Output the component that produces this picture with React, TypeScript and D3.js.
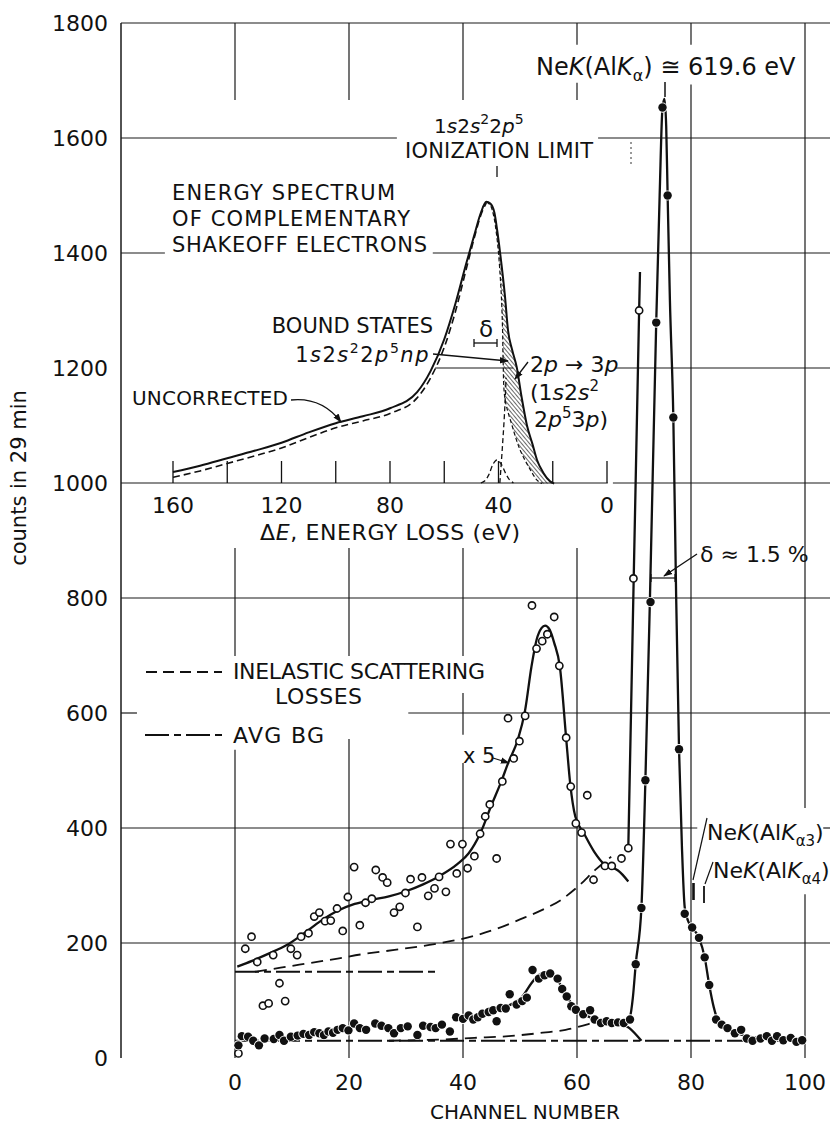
import React from 'react';
import * as d3 from 'd3';

// ---------- axis ticks ----------
const yTicks = [0, 200, 400, 600, 800, 1000, 1200, 1400, 1600, 1800];
const xTicks = [0, 20, 40, 60, 80, 100];
const insetTicks = [0, 20, 40, 60, 80, 100, 120, 140, 160];
const insetTickLabels = [0, 40, 80, 120, 160];

// ---------- main data (channel, counts) ----------
const openCircles: [number, number][] = [
  [0.6, 8], [1.8, 190], [2.9, 211], [3.9, 167], [4.9, 91], [5.9, 95], [6.7, 179], [7.8, 130], [8.8, 99],
  [9.8, 190], [10.9, 179], [11.6, 211], [12.9, 217], [13.9, 246], [14.8, 253], [15.8, 238], [16.8, 239],
  [17.9, 260], [18.9, 221], [19.8, 280], [20.9, 332], [21.9, 231], [22.9, 270], [24.0, 277], [24.7, 327],
  [25.9, 314], [26.7, 305], [27.9, 253], [28.9, 263], [29.9, 287], [30.8, 311], [32.0, 228], [32.8, 314],
  [33.9, 282], [35.0, 295], [35.8, 315], [37.0, 289], [37.8, 372], [38.9, 321], [39.9, 372], [40.8, 330],
  [42.0, 351], [43.0, 390], [43.9, 420], [44.7, 441], [45.9, 347], [46.9, 481], [47.9, 591], [48.9, 521],
  [49.9, 551], [50.9, 595], [52.1, 787], [52.9, 712], [53.9, 725], [54.8, 737], [56.0, 767], [56.9, 682],
  [58.1, 557], [58.9, 472], [59.8, 408], [60.8, 392], [61.8, 457], [62.9, 310], [64.9, 334], [66.1, 334],
  [67.8, 347], [69.0, 365], [69.9, 834], [70.9, 1300],
];

const filledDots: [number, number][] = [
  [0.6, 22], [1.2, 38], [2.3, 37], [3.2, 30], [4.2, 22], [5.2, 34], [6.8, 33], [7.8, 40], [8.6, 30],
  [9.8, 37], [11, 39], [12, 42], [13, 40], [13.9, 45], [14.8, 43], [15.6, 40], [16.4, 46], [17.2, 44],
  [18, 49], [18.9, 52], [19.9, 48], [20.9, 60], [21.9, 52], [23, 49], [24.6, 60], [25.7, 56], [26.9, 52],
  [27.9, 43], [29.1, 52], [30.3, 55], [32, 40], [33, 56], [34.3, 54], [35.2, 52], [36.3, 58], [37.7, 46],
  [38.8, 71], [40, 68], [41, 74], [41.8, 67], [42.6, 71], [43.4, 77], [44.5, 80], [45.3, 83], [45.9, 64],
  [46.6, 87], [47.5, 86], [48.2, 111], [49.4, 93], [50.4, 99], [51.2, 105], [52.2, 153], [53.3, 138],
  [54.3, 144], [55.3, 147], [56.6, 138], [57.4, 120], [58.2, 107], [59, 90], [59.8, 84], [61.1, 76],
  [62.3, 83], [63.1, 67], [64.2, 61], [65.2, 64], [66.1, 61], [67.2, 62], [68.2, 61], [69.3, 67],
  [70.3, 163], [71.3, 261], [72.0, 483], [72.9, 793], [73.9, 1279], [75.0, 1653], [75.9, 1500],
  [76.9, 1114], [77.9, 537], [78.9, 251], [80.2, 227], [81.4, 209], [82.4, 175], [83.2, 127], [84.4, 67],
  [85.4, 58], [86.4, 52], [87.7, 43], [88.8, 49], [89.8, 34], [90.8, 30], [92.2, 34], [93.3, 38],
  [94.2, 30], [95.1, 38], [96.2, 31], [97.5, 35], [98.5, 28], [99.5, 31],
];

// fitted curve through the x5 (open circle) data
const fitX5: [number, number][] = [
  [0.4, 159], [3, 169], [6, 182], [9, 196], [12, 216], [15, 238], [18, 256], [21, 268], [24, 275],
  [27, 281], [30, 290], [33, 302], [36, 317], [39, 337], [41, 356], [43, 390], [45, 440], [46.6, 478],
  [48, 515], [49.6, 553], [50.9, 605], [52, 680], [52.9, 727], [53.8, 748], [54.4, 752], [55.2, 745],
  [56, 722], [57, 680], [58.1, 556], [58.8, 478], [59.7, 420], [61.2, 391], [63, 359], [64.8, 337],
  [66, 332], [67.2, 326], [69, 307],
];
const riseX5: [number, number][] = [[69.0, 365], [70.0, 860], [70.9, 1300], [71.05, 1367]];

// fitted curve through the real counts (filled dots)
const fitCounts: [number, number][] = [
  [47, 88], [49, 96], [50.5, 108], [52, 130], [53, 142], [54.3, 148], [55.3, 148], [56.3, 140],
  [57.4, 122], [58.5, 103], [59.5, 88], [61, 77], [63, 68], [65, 63], [67, 62], [68.6, 64], [69.3, 72],
  [69.8, 105], [70.3, 163], [71.3, 261], [72.0, 483], [72.8, 800], [73.9, 1280], [74.5, 1500],
  [75.0, 1653], [75.35, 1668], [75.65, 1620], [75.9, 1500], [76.3, 1318], [76.9, 1114], [77.4, 800],
  [77.9, 537], [78.4, 370], [78.9, 262], [79.5, 238], [80.2, 227], [81.4, 209], [82.4, 175], [83.2, 127],
  [84, 88], [84.6, 68], [85.4, 58], [86.4, 52], [87.7, 45], [89, 40], [92, 35], [96, 33], [100, 31],
];
const tailCounts: [number, number][] = [[67.5, 62], [69.2, 52], [71.3, 30]];

// inelastic scattering losses (dashed)
const inelasticX5: [number, number][] = [
  [3.5, 150], [8, 157], [13, 165], [18, 173], [22, 180], [28, 188], [35, 198], [41.8, 212], [46, 225],
  [50, 241], [54, 258], [57.2, 275], [60.6, 302], [63.3, 328], [66, 350],
];
const inelasticCounts: [number, number][] = [
  [27, 30], [32, 31], [36, 32], [42, 35], [48, 38], [54, 44], [58, 49], [62, 59], [65, 69], [66.5, 74],
];

// average background (dash-dot)
const avgBgX5: [number, number][] = [[0, 150], [35.4, 150]];
const avgBgCounts: [number, number][] = [[0, 30], [100, 30]];

// ---------- inset: energy loss (eV), counts ----------
const shakeoffSolid: [number, number][] = [
  [160, 1019], [150, 1030], [140, 1043], [130, 1056], [120, 1070], [110, 1088], [100, 1104], [90, 1116],
  [80, 1130], [70, 1158], [65, 1195], [60, 1250], [56, 1310], [52, 1380], [49, 1430], [46.5, 1470],
  [44.5, 1489], [43, 1486], [41.5, 1470], [40.5, 1440], [39.4, 1400], [37.6, 1324], [36.5, 1266],
  [35, 1232], [33.3, 1202], [31.5, 1150], [29.5, 1100], [27.5, 1068], [25.8, 1040], [23.5, 1018],
  [21, 1003], [19.5, 999],
];
const shakeoffUncorrected: [number, number][] = [
  [160, 1010], [150, 1021], [140, 1034], [130, 1047], [120, 1061], [110, 1079], [100, 1096], [90, 1108],
  [80, 1121], [70, 1148], [65, 1183], [60, 1236], [56, 1296], [52, 1370], [49, 1425], [46.5, 1466],
  [44.5, 1487],
];
const boundInner: [number, number][] = [
  [44.5, 1489], [43, 1483], [41.8, 1465], [40.8, 1435], [40, 1400], [39, 1330], [38.5, 1266],
  [38.3, 1213], [37.6, 1146], [35, 1100], [32, 1057], [28.5, 1025], [25.8, 1005], [24, 999],
];
const steepDashed: [number, number][] = [[39.5, 1000], [38.6, 1060], [37.8, 1120], [37.2, 1183]];
const bump3p: [number, number][] = [
  [46.5, 1000], [45, 1004], [43.5, 1015], [42, 1033], [40.6, 1040], [39, 1033], [37.5, 1018], [36, 1006], [34.5, 1000],
];

// ---------- grid segments (in data units) ----------
const vGrid: { ch: number; spans: [number, number][] }[] = [
  { ch: 0, spans: [[1800, 1666], [887, 699], [536, 0]] },
  { ch: 20, spans: [[1800, 1666], [887, 699], [555, 0]] },
  { ch: 40, spans: [[1800, 1666], [887, 699], [635, 562], [513, 0]] },
  { ch: 60, spans: [[1800, 1762], [1696, 1666], [887, 0]] },
  { ch: 80, spans: [[1800, 1762], [1693, 0]] },
  { ch: 100, spans: [[1800, 435], [285, 0]] },
];
const hGrid: { v: number; spans: [number, number][] }[] = [
  { v: 1800, spans: [[-20, 104.5]] },
  { v: 1600, spans: [[-20, 28.4], [63.7, 104.5]] },
  { v: 1400, spans: [[-20, -12.3], [34.7, 104.5]] },
  { v: 1200, spans: [[35.1, 48.8], [66.7, 104.5]] },
  { v: 1000, spans: [[-20, 65.4], [66.3, 104.5]] },
  { v: 800, spans: [[-20, 104.5]] },
  { v: 600, spans: [[-20, -17.2], [30.4, 104.5]] },
  { v: 400, spans: [[-20, 81.1], [103.2, 104.5]] },
  { v: 200, spans: [[-20, 104.5]] },
];

const W = 830;
const H = 1129;
const FONT = 'DejaVu Sans, sans-serif';
const INK = '#111';

export default function App() {
  const x = d3.scaleLinear().domain([-20, 100]).range([121, 805]);
  const y = d3.scaleLinear().domain([0, 1800]).range([1058, 23]);
  const xe = d3.scaleLinear().domain([0, 160]).range([607, 173]);

  const lineMain = d3.line<[number, number]>().x((d) => x(d[0])).y((d) => y(d[1])).curve(d3.curveMonotoneX);
  const lineLin = d3.line<[number, number]>().x((d) => x(d[0])).y((d) => y(d[1]));
  const lineInset = d3.line<[number, number]>().x((d) => xe(d[0])).y((d) => y(d[1])).curve(d3.curveMonotoneX);
  const lineInsetCR = d3.line<[number, number]>().x((d) => xe(d[0])).y((d) => y(d[1])).curve(d3.curveCatmullRom);

  // hatched area (bound states): outer = solid right side, inner = boundInner
  const peakIdx = shakeoffSolid.findIndex((d) => d[0] === 44.5);
  const outerRight = shakeoffSolid.slice(peakIdx);
  const hatchPoly = [
    ...outerRight.map((d) => [xe(d[0]), y(d[1])]),
    ...[...boundInner].reverse().map((d) => [xe(d[0]), y(d[1])]),
  ];
  const hatchPath = 'M' + hatchPoly.map((p) => p.join(',')).join('L') + 'Z';

  const gridStroke = '#1a1a1a';
  const txt = { fontFamily: FONT, fill: INK } as const;

  return (
    <svg width={W} height={H} style={{ position: 'absolute', left: 0, top: 0, background: '#fff' }}>
      <defs>
        <pattern id="hatch" patternUnits="userSpaceOnUse" width="3" height="3" patternTransform="rotate(-40)">
          <line x1="0" y1="0" x2="0" y2="3" stroke="#111" strokeWidth="1.25" />
        </pattern>
        <marker id="arr" viewBox="0 0 10 10" refX="9" refY="5" markerWidth="7" markerHeight="7" orient="auto-start-reverse">
          <path d="M0,1.5 L10,5 L0,8.5 Z" fill="#111" />
        </marker>
      </defs>
      <rect x={0} y={0} width={W} height={H} fill="#fff" />

      {/* grid */}
      <g stroke={gridStroke} strokeWidth={1.2}>
        {vGrid.map((g) =>
          g.spans.map((s, i) => (
            <line key={`v${g.ch}-${i}`} x1={x(g.ch)} x2={x(g.ch)} y1={y(s[0])} y2={y(s[1])} />
          ))
        )}
        {hGrid.map((g) =>
          g.spans.map((s, i) => (
            <line key={`h${g.v}-${i}`} x1={x(s[0])} x2={x(s[1])} y1={y(g.v)} y2={y(g.v)} />
          ))
        )}
        {/* left axis */}
        <line x1={x(-20)} x2={x(-20)} y1={y(1800)} y2={y(0)} strokeWidth={1.5} />
      </g>

      {/* y tick labels */}
      {yTicks.map((v) => (
        <text key={v} x={108} y={y(v) + 8} textAnchor="end" fontSize={22} {...txt}>
          {v}
        </text>
      ))}
      {/* x tick labels */}
      {xTicks.map((v) => (
        <text key={v} x={x(v)} y={1090} textAnchor="middle" fontSize={22} {...txt}>
          {v}
        </text>
      ))}
      <text x={x(50) + 5} y={1119} textAnchor="middle" fontSize={20} {...txt}>
        CHANNEL NUMBER
      </text>
      <text transform={`translate(26, 478) rotate(-90)`} textAnchor="middle" fontSize={21} {...txt}>
        counts in 29 min
      </text>

      {/* ---------- inset ---------- */}
      <g stroke="#111" strokeWidth={1.3}>
        {insetTicks.map((e) => (
          <line key={e} x1={xe(e)} x2={xe(e)} y1={y(1000)} y2={y(1000) - 22} />
        ))}
      </g>
      {insetTickLabels.map((e) => (
        <text key={e} x={xe(e)} y={513} textAnchor="middle" fontSize={22} {...txt}>
          {e}
        </text>
      ))}
      <text x={260} y={540} fontSize={22} textLength={260} lengthAdjust="spacing" {...txt}>
        Δ<tspan fontStyle="italic">E</tspan>, ENERGY LOSS  (eV)
      </text>

      <path d={hatchPath} fill="url(#hatch)" stroke="none" />
      <path d={lineInset(shakeoffUncorrected) || ''} fill="none" stroke="#111" strokeWidth={1.6} strokeDasharray="7,4" />
      <path d={lineInsetCR(boundInner) || ''} fill="none" stroke="#111" strokeWidth={1.2} strokeDasharray="4,2.5" />
      <path d={lineInsetCR(steepDashed) || ''} fill="none" stroke="#111" strokeWidth={1.3} strokeDasharray="5,3" />
      <path d={lineInsetCR(bump3p) || ''} fill="none" stroke="#111" strokeWidth={1.3} strokeDasharray="5,3" />
      <path d={lineInset(shakeoffSolid) || ''} fill="none" stroke="#111" strokeWidth={2} />

      {/* inset annotations */}
      <text x={434} y={133} fontSize={20} {...txt}>
        1<tspan fontStyle="italic">s</tspan>2<tspan fontStyle="italic">s</tspan>
        <tspan fontSize={14} dy={-9}>2</tspan>
        <tspan dy={9}>2</tspan>
        <tspan fontStyle="italic">p</tspan>
        <tspan fontSize={14} dy={-9}>5</tspan>
      </text>
      <text x={405} y={158} fontSize={21} textLength={188} lengthAdjust="spacing" {...txt}>
        IONIZATION LIMIT
      </text>
      <line x1={497} x2={497} y1={166} y2={177} stroke="#111" strokeWidth={1.3} />

      <text x={172} y={200} fontSize={21} textLength={223} lengthAdjust="spacing" {...txt}>
        ENERGY SPECTRUM
      </text>
      <text x={172} y={226} fontSize={21} textLength={238} lengthAdjust="spacing" {...txt}>
        OF COMPLEMENTARY
      </text>
      <text x={172} y={252} fontSize={21} textLength={255} lengthAdjust="spacing" {...txt}>
        SHAKEOFF ELECTRONS
      </text>

      <text x={433} y={333} textAnchor="end" fontSize={21} {...txt}>
        BOUND STATES
      </text>
      <text x={486} y={337} textAnchor="middle" fontSize={23} {...txt}>
        δ
      </text>
      <g stroke="#111" strokeWidth={1.3}>
        <line x1={474} x2={497} y1={343} y2={343} />
        <line x1={474} x2={474} y1={339} y2={347} />
        <line x1={497} x2={497} y1={339} y2={347} />
      </g>
      <text x={430} y={362} textAnchor="end" fontSize={21} letterSpacing={1.5} {...txt}>
        1<tspan fontStyle="italic">s</tspan>2<tspan fontStyle="italic">s</tspan>
        <tspan fontSize={14} dy={-9}>2</tspan>
        <tspan dy={9}>2</tspan>
        <tspan fontStyle="italic">p</tspan>
        <tspan fontSize={14} dy={-9}>5</tspan>
        <tspan dy={9} fontStyle="italic">np</tspan>
      </text>
      <line x1={433} y1={354} x2={508} y2={361} stroke="#111" strokeWidth={1.3} markerEnd="url(#arr)" />

      <text x={530} y={372} fontSize={22} {...txt}>
        2<tspan fontStyle="italic">p</tspan> → 3<tspan fontStyle="italic">p</tspan>
      </text>
      <line x1={528} y1={362} x2={515} y2={379} stroke="#111" strokeWidth={1.3} markerEnd="url(#arr)" />
      <text x={530} y={400} fontSize={22} {...txt}>
        (1<tspan fontStyle="italic">s</tspan>2<tspan fontStyle="italic">s</tspan>
        <tspan fontSize={15} dy={-9}>2</tspan>
      </text>
      <text x={534} y={427} fontSize={22} {...txt}>
        2<tspan fontStyle="italic">p</tspan>
        <tspan fontSize={15} dy={-9}>5</tspan>
        <tspan dy={9}>3</tspan>
        <tspan fontStyle="italic">p</tspan>)
      </text>

      <text x={132} y={405} fontSize={20} textLength={156} lengthAdjust="spacing" {...txt}>
        UNCORRECTED
      </text>
      <path d="M291,400 C310,398 328,405 341,422" fill="none" stroke="#111" strokeWidth={1.3} markerEnd="url(#arr)" />

      {/* small dotted mark */}
      <line x1={631} x2={631} y1={142} y2={165} stroke="#333" strokeWidth={1} strokeDasharray="2,3" />

      {/* ---------- main curves ---------- */}
      <path d={lineLin(avgBgCounts) || ''} fill="none" stroke="#111" strokeWidth={1.8} strokeDasharray="24,5,7,5" />
      <path d={lineLin(avgBgX5) || ''} fill="none" stroke="#111" strokeWidth={1.8} strokeDasharray="24,5,7,5" />
      <path d={lineMain(inelasticX5) || ''} fill="none" stroke="#111" strokeWidth={1.8} strokeDasharray="12,7" />
      <path d={lineMain(inelasticCounts) || ''} fill="none" stroke="#111" strokeWidth={1.8} strokeDasharray="12,7" />
      <path d={lineMain(fitX5) || ''} fill="none" stroke="#111" strokeWidth={2.3} />
      <path d={lineLin(riseX5) || ''} fill="none" stroke="#111" strokeWidth={2.3} />
      <path d={lineMain(fitCounts) || ''} fill="none" stroke="#111" strokeWidth={2.3} />
      <path d={lineMain(tailCounts) || ''} fill="none" stroke="#111" strokeWidth={2.3} />

      {openCircles.map((d, i) => (
        <circle key={`o${i}`} cx={x(d[0])} cy={y(d[1])} r={3.6} fill="#fff" stroke="#111" strokeWidth={1.6} />
      ))}
      {filledDots.map((d, i) => (
        <circle key={`f${i}`} cx={x(d[0])} cy={y(d[1])} r={4.2} fill="#111" stroke="#fff" strokeWidth={1.8} paintOrder="stroke" />
      ))}

      {/* ---------- main annotations ---------- */}
      <text x={536} y={75} fontSize={24} {...txt}>
        Ne<tspan fontStyle="italic">K</tspan>(Al<tspan fontStyle="italic">K</tspan>
        <tspan fontSize={16} dy={6}>α</tspan>
        <tspan dy={-6}>) ≅ 619.6 eV</tspan>
      </text>
      <line x1={665} x2={665} y1={82} y2={97} stroke="#111" strokeWidth={1.5} />

      <text x={700} y={562} fontSize={22} {...txt}>
        δ ≈ 1.5 %
      </text>
      <line x1={697} y1={554} x2={664} y2={576} stroke="#111" strokeWidth={1.3} markerEnd="url(#arr)" />
      <g stroke="#111" strokeWidth={1.2}>
        <line x1={650} x2={676} y1={578} y2={578} />
        <line x1={651} x2={651} y1={574} y2={582} />
        <line x1={675} x2={675} y1={574} y2={582} />
      </g>

      <text x={463} y={763} fontSize={21} {...txt}>
        x 5
      </text>
      <line x1={493} y1={758} x2={509} y2={763} stroke="#111" strokeWidth={1.3} markerEnd="url(#arr)" />

      {/* legend */}
      <line x1={146} x2={222} y1={672} y2={672} stroke="#111" strokeWidth={1.8} strokeDasharray="11,6" />
      <text x={233} y={679} fontSize={22} textLength={252} lengthAdjust="spacing" {...txt}>
        INELASTIC SCATTERING
      </text>
      <text x={275} y={704} fontSize={22} textLength={87} lengthAdjust="spacing" {...txt}>
        LOSSES
      </text>
      <line x1={145} x2={222} y1={735} y2={735} stroke="#111" strokeWidth={1.8} strokeDasharray="24,5,7,5" />
      <text x={233} y={743} fontSize={22} textLength={91} lengthAdjust="spacing" {...txt}>
        AVG BG
      </text>

      {/* satellites */}
      <text x={707} y={840} fontSize={22} {...txt}>
        Ne<tspan fontStyle="italic">K</tspan>(Al<tspan fontStyle="italic">K</tspan>
        <tspan fontSize={15} dy={6}>α3</tspan>
        <tspan dy={-6}>)</tspan>
      </text>
      <text x={713} y={878} fontSize={22} {...txt}>
        Ne<tspan fontStyle="italic">K</tspan>(Al<tspan fontStyle="italic">K</tspan>
        <tspan fontSize={15} dy={6}>α4</tspan>
        <tspan dy={-6}>)</tspan>
      </text>
      <g stroke="#111">
        <line x1={707} y1={818} x2={693} y2={880} strokeWidth={1.2} />
        <line x1={693.5} x2={693.5} y1={883} y2={900} strokeWidth={2.6} />
        <line x1={713} y1={862} x2={705} y2={884} strokeWidth={1.2} />
        <line x1={704} x2={704} y1={886} y2={903} strokeWidth={1.8} />
      </g>
    </svg>
  );
}
